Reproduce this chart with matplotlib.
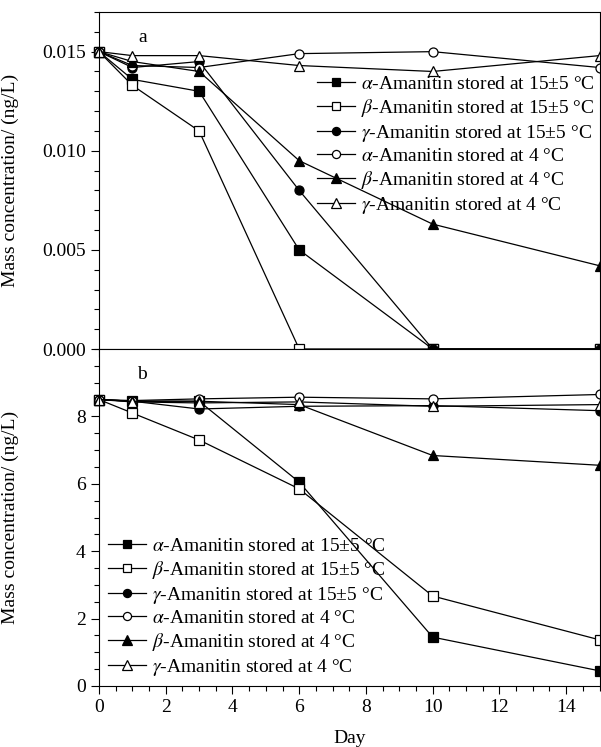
import matplotlib
matplotlib.use("Agg")
import matplotlib.pyplot as plt
from matplotlib.ticker import MultipleLocator, FormatStrFormatter

plt.rcParams['font.family'] = ['Liberation Serif', 'DejaVu Serif']
plt.rcParams['mathtext.fontset'] = 'stix'
plt.rcParams['font.size'] = 14

days = [0, 1, 3, 6, 10, 15]

labels = [
    r'$\alpha$-Amanitin stored at 15±5 °C',
    r'$\beta$-Amanitin stored at 15±5 °C',
    r'$\gamma$-Amanitin stored at 15±5 °C',
    r'$\alpha$-Amanitin stored at 4 °C',
    r'$\beta$-Amanitin stored at 4 °C',
    r'$\gamma$-Amanitin stored at 4 °C',
]

# panel a (ng/L)
a_alpha_15 = [0.0150, 0.0136, 0.0130, 0.0050, 0.0000, 0.0000]
a_beta_15 = [0.0150, 0.0133, 0.0110, 0.0000, 0.0000, 0.0000]
a_gamma_15 = [0.0150, 0.0142, 0.0145, 0.0080, 0.0000, 0.0000]
a_alpha_4 = [0.0150, 0.0143, 0.0142, 0.0149, 0.0150, 0.0142]
a_beta_4 = [0.0150, 0.0145, 0.0140, 0.0095, 0.0063, 0.0042]
a_gamma_4 = [0.0150, 0.0148, 0.0148, 0.0143, 0.0140, 0.0148]

# panel b (ng/L)
b_alpha_15 = [8.50, 8.45, 8.45, 6.05, 1.45, 0.45]
b_beta_15 = [8.50, 8.10, 7.30, 5.85, 2.67, 1.37]
b_gamma_15 = [8.50, 8.45, 8.22, 8.30, 8.32, 8.17]
b_alpha_4 = [8.50, 8.47, 8.52, 8.57, 8.52, 8.65]
b_beta_4 = [8.50, 8.45, 8.45, 8.35, 6.84, 6.55]
b_gamma_4 = [8.50, 8.43, 8.40, 8.43, 8.30, 8.35]

styles = [
    dict(marker='s', mfc='black'),
    dict(marker='s', mfc='white'),
    dict(marker='o', mfc='black'),
    dict(marker='o', mfc='white'),
    dict(marker='^', mfc='black'),
    dict(marker='^', mfc='white'),
]

fig = plt.figure(figsize=(6.01, 7.47), dpi=100)
left, right = 99 / 601, 599.5 / 601
ax_top = fig.add_axes([left, 1 - 349 / 747, right - left, 337 / 747])
ax_bot = fig.add_axes([left, 1 - 686 / 747, right - left, 337 / 747])


def draw(ax, series):
    for vals, lab, st in zip(series, labels, styles):
        ms = 7.5 if st['marker'] == '^' else 6.5
        ax.plot(days, vals, color='black', lw=0.9, marker=st['marker'],
                mfc=st['mfc'], mec='black', mew=0.9, ms=ms, label=lab,
                clip_on=False)
    ax.set_xlim(0, 15)
    ax.xaxis.set_major_locator(MultipleLocator(2))
    ax.xaxis.set_minor_locator(MultipleLocator(0.5))
    ax.tick_params(which='major', direction='out', length=6, width=0.8,
                   right=False, top=False)
    ax.tick_params(which='minor', direction='out', length=3.5, width=0.8,
                   right=False, top=False)
    for s in ax.spines.values():
        s.set_linewidth(0.8)


draw(ax_top, [a_alpha_15, a_beta_15, a_gamma_15, a_alpha_4, a_beta_4, a_gamma_4])
draw(ax_bot, [b_alpha_15, b_beta_15, b_gamma_15, b_alpha_4, b_beta_4, b_gamma_4])

ax_top.set_ylim(0, 0.017)
ax_top.yaxis.set_major_locator(MultipleLocator(0.005))
ax_top.yaxis.set_minor_locator(MultipleLocator(0.001))
ax_top.yaxis.set_major_formatter(FormatStrFormatter('%.3f'))
ax_top.tick_params(axis='x', labelbottom=False)
ax_top.set_ylabel('Mass concentration/ (ng/L)')
ax_top.yaxis.set_label_coords(-0.16, 0.5)
ax_top.text(1.3, 0.0157, 'a', fontsize=14, ha='center', va='center')

ax_bot.set_ylim(0, 10)
ax_bot.set_yticks([0, 2, 4, 6, 8])
ax_bot.yaxis.set_minor_locator(MultipleLocator(0.5))
ax_bot.set_ylabel('Mass concentration/ (ng/L)')
ax_bot.yaxis.set_label_coords(-0.16, 0.5)
ax_bot.set_xlabel('Day', labelpad=10)
ax_bot.text(1.3, 9.25, 'b', fontsize=14, ha='center', va='center')

leg_kw = dict(frameon=False, fontsize=14, handlelength=1.95,
              handletextpad=0.3, labelspacing=0.2, borderpad=0,
              borderaxespad=0, markerscale=0.9)
ax_top.legend(loc='upper left', bbox_to_anchor=(0.4356, 0.812), **leg_kw)
ax_bot.legend(loc='lower left', bbox_to_anchor=(0.018, 0.024), **leg_kw)

fig.savefig('out.png', dpi=100)
